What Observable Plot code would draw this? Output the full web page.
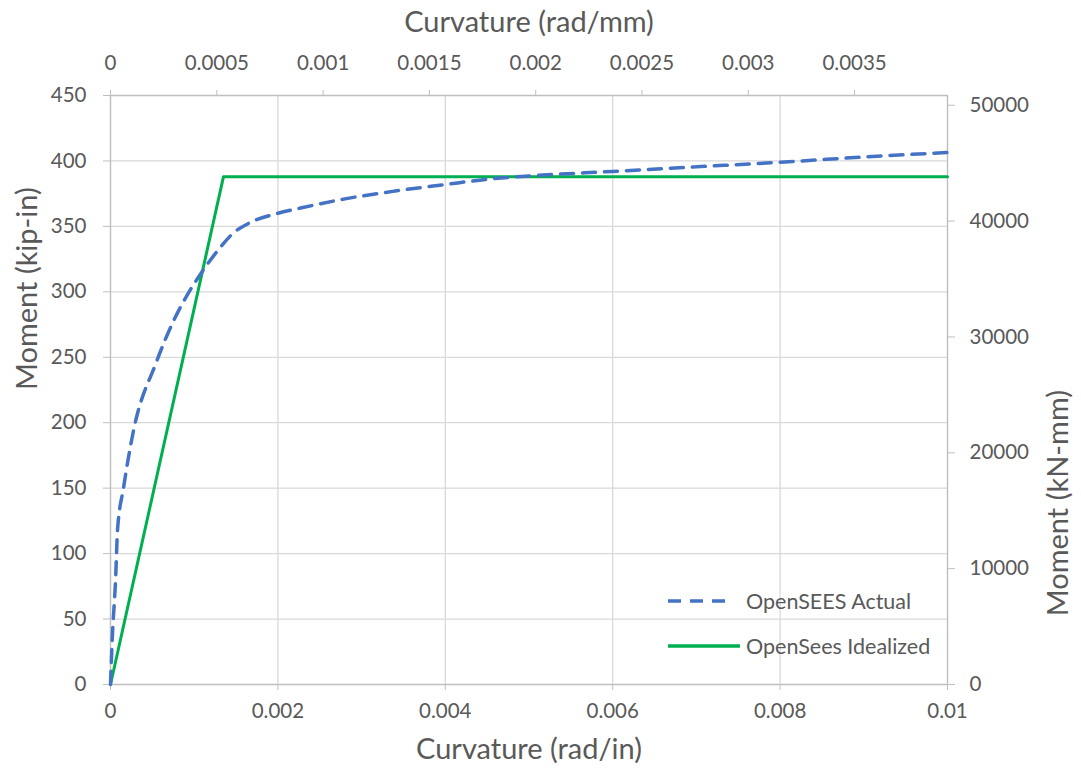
<!DOCTYPE html>
<html><head><meta charset="utf-8">
<script src="https://cdn.jsdelivr.net/npm/d3@7"></script>
<script src="https://cdn.jsdelivr.net/npm/@observablehq/plot@0.6"></script>
<style>
body{margin:0;background:#fff;}
#wrap{position:relative;width:1081px;height:776px;font-family:Lato,"Open Sans",sans-serif;}
#legend{position:absolute;left:668px;top:578px;color:#595959;font-size:21.5px;}
#legend .row{display:flex;align-items:center;height:45px;}
#legend svg{width:78px;height:10px;display:block;}
</style></head><body><div id="wrap"><div id="legend"></div></div>
<script>
// OpenSEES actual moment–curvature response
const curvatureActual = [0, 0.000024, 0.00006, 0.000084, 0.000155, 0.000275, 0.00054, 0.00074, 0.00093, 0.00108, 0.00125, 0.00147, 0.00167, 0.002, 0.00227, 0.0028, 0.0034, 0.004, 0.0045, 0.005, 0.006, 0.007, 0.008, 0.009, 0.01];
const momentActual    = [0, 39, 79, 118, 150, 194, 245, 276, 299, 314, 329, 345, 353, 360, 364, 371, 377, 382, 386, 388.5, 392, 395.5, 399, 403, 406.5];
// OpenSees idealized bilinear
const curvatureIdealized = [0, 0.00135, 0.01];
const momentIdealized    = [0, 388, 388];

const seriesNames = ["OpenSEES Actual", "OpenSees Idealized"];
const seriesColors = ["#4472C4", "#00B050"];

const xTicksIn = [0, 0.002, 0.004, 0.006, 0.008, 0.01];
const xTickLabelsIn = ["0", "0.002", "0.004", "0.006", "0.008", "0.01"];
const xTicksMm = [0, 0.0005, 0.001, 0.0015, 0.002, 0.0025, 0.003, 0.0035];
const xTickLabelsMm = ["0", "0.0005", "0.001", "0.0015", "0.002", "0.0025", "0.003", "0.0035"];
const yTicksKip = [0, 50, 100, 150, 200, 250, 300, 350, 400, 450];
const yTicksKNmm = [0, 10000, 20000, 30000, 40000, 50000];
const kipInToKNmm = 112.98;
const curvatureTopFactor = 2.54;

const titleBottom = "Curvature (rad/in)";
const titleTop = "Curvature (rad/mm)";
const titleLeft = "Moment (kip-in)";
const titleRight = "Moment (kN-mm)";

const actual = curvatureActual.map((c, i) => ({c, m: momentActual[i]}));
const ideal = curvatureIdealized.map((c, i) => ({c, m: momentIdealized[i]}));
const topTickPos = xTicksMm.map(v => v * curvatureTopFactor);
const rightTickPos = yTicksKNmm.map(v => v / kipInToKNmm);

const grid = "#d9d9d9", axisCol = "#bfbfbf", txt = "#595959";
const tickFont = 20.5, titleFont = 29;

const chart = Plot.plot({
  width: 1081, height: 776,
  marginLeft: 110, marginRight: 134, marginTop: 95, marginBottom: 92,
  style: {fontFamily: "Lato, 'Open Sans', sans-serif", background: "#fff"},
  x: {domain: [0, 0.01]},
  y: {domain: [0, 450]},
  marks: [
    Plot.gridY(yTicksKip, {stroke: grid, strokeOpacity: 1, strokeWidth: 1.3}),
    Plot.gridX(xTicksIn, {stroke: grid, strokeOpacity: 1, strokeWidth: 1.3}),
    Plot.frame({stroke: axisCol, strokeWidth: 1.3}),
    Plot.axisX({anchor: "bottom", ticks: xTicksIn, tickFormat: d => xTickLabelsIn[xTicksIn.indexOf(d)], tickSize: 6, tickPadding: 13, fontSize: tickFont, stroke: axisCol, fill: txt, label: null}),
    Plot.axisX({anchor: "top", ticks: topTickPos, tickFormat: d => xTickLabelsMm[topTickPos.indexOf(d)], tickSize: 6, tickPadding: 20, fontSize: tickFont, stroke: axisCol, fill: txt, label: null}),
    Plot.axisY({anchor: "left", ticks: yTicksKip, tickFormat: d => String(d), tickSize: 7, tickPadding: 17, fontSize: tickFont, stroke: axisCol, fill: txt, label: null}),
    Plot.axisY({anchor: "right", ticks: rightTickPos, tickFormat: d => String(yTicksKNmm[rightTickPos.indexOf(d)]), tickSize: 7, tickPadding: 15, fontSize: tickFont, stroke: axisCol, fill: txt, label: null}),
    Plot.line(ideal, {x: "c", y: "m", stroke: seriesColors[1], strokeWidth: 3}),
    Plot.line(actual, {x: "c", y: "m", stroke: seriesColors[0], strokeWidth: 3.5, strokeDasharray: "13,9", curve: "monotone-x"}),
    Plot.text([titleBottom], {text: d => d, frameAnchor: "bottom", dy: 74, fontSize: titleFont, fill: txt}),
    Plot.text([titleTop], {text: d => d, frameAnchor: "top", dy: -84, fontSize: titleFont, fill: txt}),
    Plot.text([titleLeft], {text: d => d, frameAnchor: "left", dx: -83, rotate: -90, fontSize: titleFont, fill: txt}),
    Plot.text([titleRight], {text: d => d, frameAnchor: "right", dx: 111, rotate: -90, fontSize: titleFont, fill: txt})
  ]
});
document.getElementById("wrap").prepend(chart);

const legend = document.getElementById("legend");
seriesNames.forEach((name, i) => {
  const row = document.createElement("div");
  row.className = "row";
  const dash = i === 0 ? "13,9" : "none";
  row.innerHTML = `<svg viewBox="0 0 78 10"><line x1="0" y1="5" x2="${i === 0 ? 62 : 72}" y2="5" stroke="${seriesColors[i]}" stroke-width="3.5" stroke-dasharray="${dash}"/></svg><span>${name}</span>`;
  legend.appendChild(row);
});
</script>
</body></html>
